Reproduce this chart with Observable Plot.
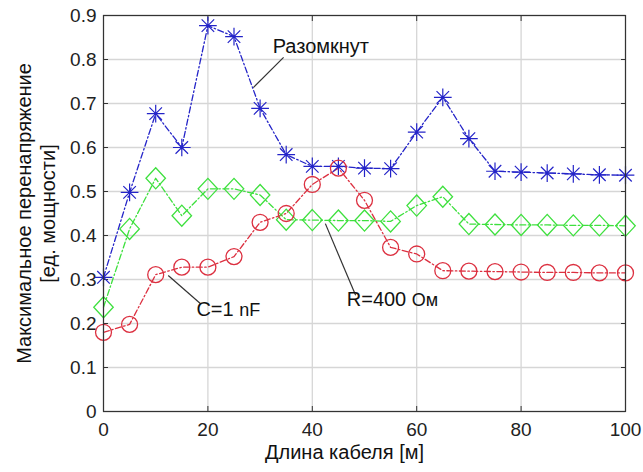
<!DOCTYPE html>
<html><head><meta charset="utf-8">
<script src="https://cdn.jsdelivr.net/npm/d3@7"></script>
<script src="https://cdn.jsdelivr.net/npm/@observablehq/plot@0.6"></script>
<style>
body{margin:0;background:#fff;}
#chart{position:absolute;left:0;top:0;}
</style></head>
<body><div id="chart"></div>
<script>
const lengths = [0,5,10,15,20,25,30,35,40,45,50,55,60,65,70,75,80,85,90,95,100];
const openValues = [0.305,0.498,0.677,0.600,0.877,0.852,0.689,0.584,0.557,0.557,0.553,0.552,0.635,0.714,0.620,0.546,0.544,0.542,0.540,0.538,0.537];
const rValues = [0.237,0.415,0.530,0.445,0.506,0.506,0.492,0.436,0.435,0.434,0.434,0.432,0.468,0.488,0.426,0.425,0.424,0.424,0.423,0.423,0.422];
const cValues = [0.180,0.198,0.311,0.328,0.328,0.352,0.430,0.450,0.516,0.553,0.480,0.373,0.358,0.320,0.319,0.318,0.317,0.316,0.316,0.315,0.315];
const xTicks = [0,20,40,60,80,100];
const yTicks = [0,0.1,0.2,0.3,0.4,0.5,0.6,0.7,0.8,0.9];
const labelMain = ["Разомкнут","C=1","R=400"];
const labelUnit = ["","nF","Ом"];
const labelX = [32.4,17.8,46.6];
const labelY = [0.829,0.231,0.254];
const leaderX1 = [34.5,12.4,42.5];
const leaderY1 = [0.805,0.309,0.427];
const leaderX2 = [28.7,18.6,48.3];
const leaderY2 = [0.736,0.245,0.264];
const xLabel = "Длина кабеля [м]";
const yLabel = "Максимальное перенапряжение\n[ед. мощности]";

const rows = (vals) => lengths.map((x,i)=>({x, y: vals[i]}));
const labels = labelMain.map((t,i)=>({t: labelUnit[i] ? t + " " + labelUnit[i] : t, x: labelX[i], y: labelY[i]}));
const leaders = labelMain.map((t,i)=>({x1: leaderX1[i], y1: leaderY1[i], x2: leaderX2[i], y2: leaderY2[i]}));

const star = {draw(ctx, size){ const r = Math.sqrt(size)/2; const d = r*Math.SQRT1_2;
  ctx.moveTo(-r,0);ctx.lineTo(r,0);ctx.moveTo(0,-r);ctx.lineTo(0,r);
  ctx.moveTo(-d,-d);ctx.lineTo(d,d);ctx.moveTo(-d,d);ctx.lineTo(d,-d);}};
const diamond = {draw(ctx, size){ const r = Math.sqrt(size)/2;
  ctx.moveTo(0,-r*1.08);ctx.lineTo(r,0);ctx.lineTo(0,r*1.08);ctx.lineTo(-r,0);ctx.closePath();}};
const circ = {draw(ctx, size){ const r = Math.sqrt(size)/2; ctx.moveTo(r,0); ctx.arc(0,0,r,0,2*Math.PI);}};

const blue = "#2424c8", green = "#3ee03e", red = "#dc3040";
const font = "'Liberation Sans', Arial, sans-serif";
const dash = "6,2.5,1.5,2.5";

const chart = Plot.plot({
  width: 643, height: 472,
  marginLeft: 103, marginRight: 18, marginTop: 15, marginBottom: 61,
  style: {fontFamily: font, fontSize: "19px", color: "#222", background: "#fff"},
  x: {domain: [0,100], ticks: xTicks, label: null},
  y: {domain: [0,0.9], ticks: yTicks, label: null},
  marks: [
    Plot.gridX(xTicks, {stroke: "#d6d6d6", strokeOpacity: 1, strokeWidth: 1.3}),
    Plot.gridY(yTicks, {stroke: "#d6d6d6", strokeOpacity: 1, strokeWidth: 1.3}),
    Plot.axisX(xTicks, {anchor: "bottom", tickSize: 0, tickPadding: 11, fontSize: 19, fill: "#222", tickFormat: d => String(d)}),
    Plot.axisY(yTicks, {anchor: "left", tickSize: 0, tickPadding: 7, fontSize: 19, fill: "#222", tickFormat: d => String(d)}),
    Plot.axisX(xTicks, {anchor: "bottom", tickSize: -5, tickFormat: () => "", stroke: "#333"}),
    Plot.axisX(xTicks, {anchor: "top", tickSize: -5, tickFormat: () => "", stroke: "#333"}),
    Plot.axisY(yTicks, {anchor: "left", tickSize: -5, tickFormat: () => "", stroke: "#333"}),
    Plot.axisY(yTicks, {anchor: "right", tickSize: -5, tickFormat: () => "", stroke: "#333"}),
    Plot.line(rows(openValues), {x: "x", y: "y", stroke: blue, strokeWidth: 1.3, strokeDasharray: dash}),
    Plot.line(rows(rValues), {x: "x", y: "y", stroke: green, strokeWidth: 1.3, strokeDasharray: dash}),
    Plot.line(rows(cValues), {x: "x", y: "y", stroke: red, strokeWidth: 1.3, strokeDasharray: dash}),
    Plot.dot(rows(openValues), {x: "x", y: "y", symbol: star, r: 10, stroke: blue, strokeWidth: 1.2, fill: "none"}),
    Plot.dot(rows(rValues), {x: "x", y: "y", symbol: diamond, r: 11, stroke: green, strokeWidth: 1.3, fill: "none"}),
    Plot.dot(rows(cValues), {x: "x", y: "y", symbol: circ, r: 9, stroke: red, strokeWidth: 1.3, fill: "none"}),
    Plot.link(leaders, {x1: "x1", y1: "y1", x2: "x2", y2: "y2", stroke: "#333", strokeWidth: 1.2}),
    Plot.text(labels, {x: "x", y: "y", text: "t", textAnchor: "start", fontSize: 20, fill: "#111"}),
    Plot.frame({stroke: "#333", strokeWidth: 1.2}),
    Plot.text([xLabel], {frameAnchor: "bottom", dx: -20, dy: 47, fontSize: 20, fill: "#111"}),
    Plot.text([yLabel], {frameAnchor: "left", textAnchor: "middle", lineAnchor: "middle", dx: -68, rotate: -90, fontSize: 20, lineHeight: 1.2, fill: "#111"})
  ]
});
// slightly smaller unit suffixes in annotations
d3.select(chart).selectAll("text").each(function(){
  const el = d3.select(this); const txt = el.text();
  labelMain.forEach((m,i) => {
    if (labelUnit[i] && txt === m + " " + labelUnit[i]) {
      el.text(m + " ");
      el.append("tspan").attr("font-size", 18).text(labelUnit[i]);
    }
  });
});
document.getElementById("chart").appendChild(chart);
</script></body></html>
